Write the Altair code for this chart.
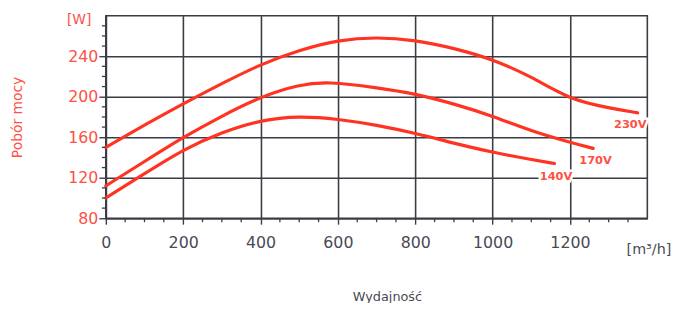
import altair as alt
import pandas as pd

# ---- data ----
x_230 = [0, 100, 200, 300, 400, 500, 600, 700, 800, 900, 1000, 1100, 1200, 1300, 1375]
w_230 = [150, 172, 193, 213, 232, 246, 256, 259, 256, 248, 237, 220, 197, 189, 184]

x_170 = [0, 100, 200, 300, 400, 500, 575, 700, 800, 900, 1000, 1100, 1200, 1260]
w_170 = [112, 136, 160, 181, 200, 212, 215, 209, 203, 193, 181, 166, 155, 149]

x_140 = [0, 100, 200, 300, 400, 500, 600, 700, 800, 900, 1000, 1100, 1160]
w_140 = [100, 124, 148, 165, 177, 181, 178, 172, 164, 154, 145, 138, 134]

label_text = ["230V", "170V", "140V"]
label_x = [1356, 1266, 1164]
label_w = [172, 136, 121]

x_major = [0, 200, 400, 600, 800, 1000, 1200]
y_major = [80, 120, 160, 200, 240]
x_minor = [v for v in range(50, 1351, 50) if v % 200 != 0]
y_minor = [v for v in range(90, 271, 10) if v % 40 != 0]

RED_LINE = "#ff3322"
RED_TEXT = "#ff5045"
GRID = "#3a3d45"
DARK = "#4a4a55"
FONT = "DejaVu Sans"

rows = []
for name, xs, ws in [("230V", x_230, w_230), ("170V", x_170, w_170), ("140V", x_140, w_140)]:
    for a, b in zip(xs, ws):
        rows.append({"series": name, "q": a, "p": b})
df = pd.DataFrame(rows)
lab = pd.DataFrame({"t": label_text, "q": label_x, "p": label_w})

xscale = alt.Scale(domain=[0, 1400], nice=False, zero=False)
yscale = alt.Scale(domain=[80, 280], nice=False, zero=False)

xaxis = alt.Axis(
    values=x_major,
    format="d",
    grid=True,
    gridColor=GRID,
    gridWidth=1.6,
    tickSize=6,
    tickColor=GRID,
    tickWidth=1.4,
    domainColor=GRID,
    domainWidth=1.6,
    labelFont=FONT,
    labelFontSize=16,
    labelColor=DARK,
    labelPadding=11,
    labelFlush=False,
    title=None,
)
yaxis = alt.Axis(
    values=y_major,
    format="d",
    grid=True,
    gridColor=GRID,
    gridWidth=1.6,
    tickSize=7,
    tickColor=GRID,
    tickWidth=1.4,
    domainColor=GRID,
    domainWidth=1.6,
    labelFont=FONT,
    labelFontSize=16,
    labelColor=RED_TEXT,
    labelPadding=1,
    labelFlush=False,
    title=None,
)

lines = alt.Chart(df).mark_line(
    color=RED_LINE, strokeWidth=3.2, interpolate="basis", strokeCap="round"
).encode(
    x=alt.X("q:Q", scale=xscale, axis=xaxis),
    y=alt.Y("p:Q", scale=yscale, axis=yaxis),
    detail="series:N",
)

minor_x = alt.Chart(pd.DataFrame({"q": x_minor})).mark_rule(
    color=GRID, strokeWidth=1.3
).encode(x=alt.X("q:Q", scale=xscale), y=alt.value(205), y2=alt.value(209))

minor_y = alt.Chart(pd.DataFrame({"p": y_minor})).mark_rule(
    color=GRID, strokeWidth=1.3
).encode(y=alt.Y("p:Q", scale=yscale), x=alt.value(-4), x2=alt.value(0))

lab_bg = alt.Chart(lab).mark_text(
    font=FONT, fontSize=11.5, fontWeight="bold", stroke="white", strokeWidth=5, color="white"
).encode(x=alt.X("q:Q", scale=xscale), y=alt.Y("p:Q", scale=yscale), text="t:N")
lab_fg = alt.Chart(lab).mark_text(
    font=FONT, fontSize=11.5, fontWeight="bold", color=RED_TEXT
).encode(x=alt.X("q:Q", scale=xscale), y=alt.Y("p:Q", scale=yscale), text="t:N")

unit_y = alt.Chart(pd.DataFrame({"t": ["[W]"]})).mark_text(
    font=FONT, fontSize=14, color=RED_TEXT
).encode(x=alt.value(-27), y=alt.value(4), text="t:N")

title_y = alt.Chart(pd.DataFrame({"t": ["Pobór mocy"]})).mark_text(
    font=FONT, fontSize=14, color=RED_TEXT, angle=270
).encode(x=alt.value(-89), y=alt.value(103), text="t:N")

unit_x = alt.Chart(pd.DataFrame({"t": ["[m³/h]"]})).mark_text(
    font=FONT, fontSize=14.5, color=DARK, align="left"
).encode(x=alt.value(527), y=alt.value(237), text="t:N")

title_x = alt.Chart(pd.DataFrame({"t": ["Wydajność"]})).mark_text(
    font=FONT, fontSize=13, color=DARK
).encode(x=alt.value(285), y=alt.value(285), text="t:N")

chart = alt.layer(lines, minor_x, minor_y, lab_bg, lab_fg, unit_y, title_y, unit_x, title_x).properties(
    width=548,
    height=205,
    autosize=alt.AutoSizeParams(type="none"),
    padding={"left": 99, "top": 6, "right": 28, "bottom": 84},
    background="white",
).configure_view(stroke=GRID, strokeWidth=1.6)

chart.save("out.html", embed_options={"renderer": "svg", "actions": False})
